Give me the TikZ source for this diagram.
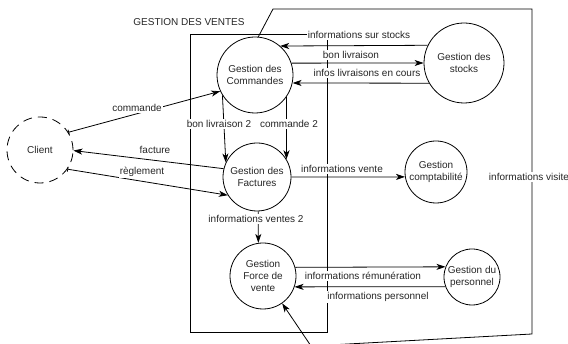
\documentclass[tikz,border=0pt]{standalone}
\usepackage{fontspec}
\setmainfont{Liberation Sans}
\usetikzlibrary{arrows.meta}
\begin{document}
\begin{tikzpicture}[x=1pt,y=-1pt,
  font=\fontsize{10}{12}\selectfont,
  proc/.style={circle,draw,line width=0.8pt,inner sep=0pt,align=center,text=black!85},
  flow/.style={line width=0.8pt,-{Stealth[length=9pt,width=6pt,inset=2.5pt]}},
  bflow/.style={line width=0.8pt,{Bar[width=5pt]}-{Stealth[length=9pt,width=6pt,inset=2.5pt]}},
  lbl/.style={fill=white,inner sep=1pt,text=black!85},
  frame/.style={line width=0.8pt}]
\useasboundingbox (0,0) rectangle (568,344);
\clip (0,0) rectangle (568,344);

% frame of the sales domain
\draw[frame] (190,34) rectangle (327,332);
\node[text=black!85] (gv) at (189,22) {GESTION DES VENTES};

% processes
\node[proc,dashed,dash pattern=on 9pt off 6pt,minimum size=66pt] (cli) at (40,150) {Client};
\node[proc,minimum size=76pt] (cmd) at (255,75) {Gestion des\\Commandes};
\node[proc,minimum size=80pt] (stk) at (464,63) {Gestion des\\stocks};
\node[proc,minimum size=68pt] (fac) at (257,177) {Gestion des\\Factures};
\node[proc,minimum size=62pt] (cpt) at (436,172) {Gestion\\comptabilité};
\node[proc,minimum size=66pt] (frc) at (263,276) {Gestion\\Force de\\vente};
\node[proc,minimum size=56pt] (per) at (472,277) {Gestion du\\personnel};

% corner points of the long loop
\coordinate (p1) at (273,9);
\coordinate (p2) at (532,9);
\coordinate (p3) at (532,334);
\coordinate (p4) at (311,346);

% flows
\draw[bflow] (cli.32.7) -- (cmd.205);
\draw[flow] (fac.166.8) -- (cli.-1.7);
\draw[bflow] (cli.-35) -- (fac.212.7);
\draw[flow] (stk.154.8) -- (cmd.49.7);
\draw[flow] (cmd.18.4) -- (stk.180);
\draw[flow] (stk.210) -- (cmd.-12.2);
\draw[flow] (cmd.212.6) -- (fac.155.7);
\draw[flow] (cmd.-35.4) -- (fac.31.4);
\draw[flow] (fac.0) -- (cpt.189.3);
\draw[flow] (fac.272) -- (frc.98);
\draw[flow] (frc.15.8) -- (per.159.1);
\draw[flow] (per.200.9) -- (frc.-19.5);
\draw[flow] (cmd.85) -- (p1) -- (p2) -- (p3) -- (p4) -- (frc.-55.6);

% labels
\node[lbl] (l1) at (137,108) {commande};
\node[lbl] (l2) at (155,150) {facture};
\node[lbl] (l3) at (142,172) {règlement};
\node[lbl] (l4) at (219,124) {bon livraison 2};
\node[lbl] (l5) at (289,124) {commande 2};
\node[lbl] (l6) at (342,169) {informations vente};
\node[lbl] (l7) at (256,219) {informations ventes 2};
\node[lbl] (l8) at (363,276) {informations rémunération};
\node[lbl] (l9) at (378,297) {informations personnel};
\node[lbl] (l10) at (359,35) {informations sur stocks};
\node[lbl] (l11) at (351,55) {bon livraison};
\node[lbl] (l12) at (367,73) {infos livraisons en cours};
\node[lbl] (l13) at (529,177) {informations visite};
\end{tikzpicture}
\end{document}
